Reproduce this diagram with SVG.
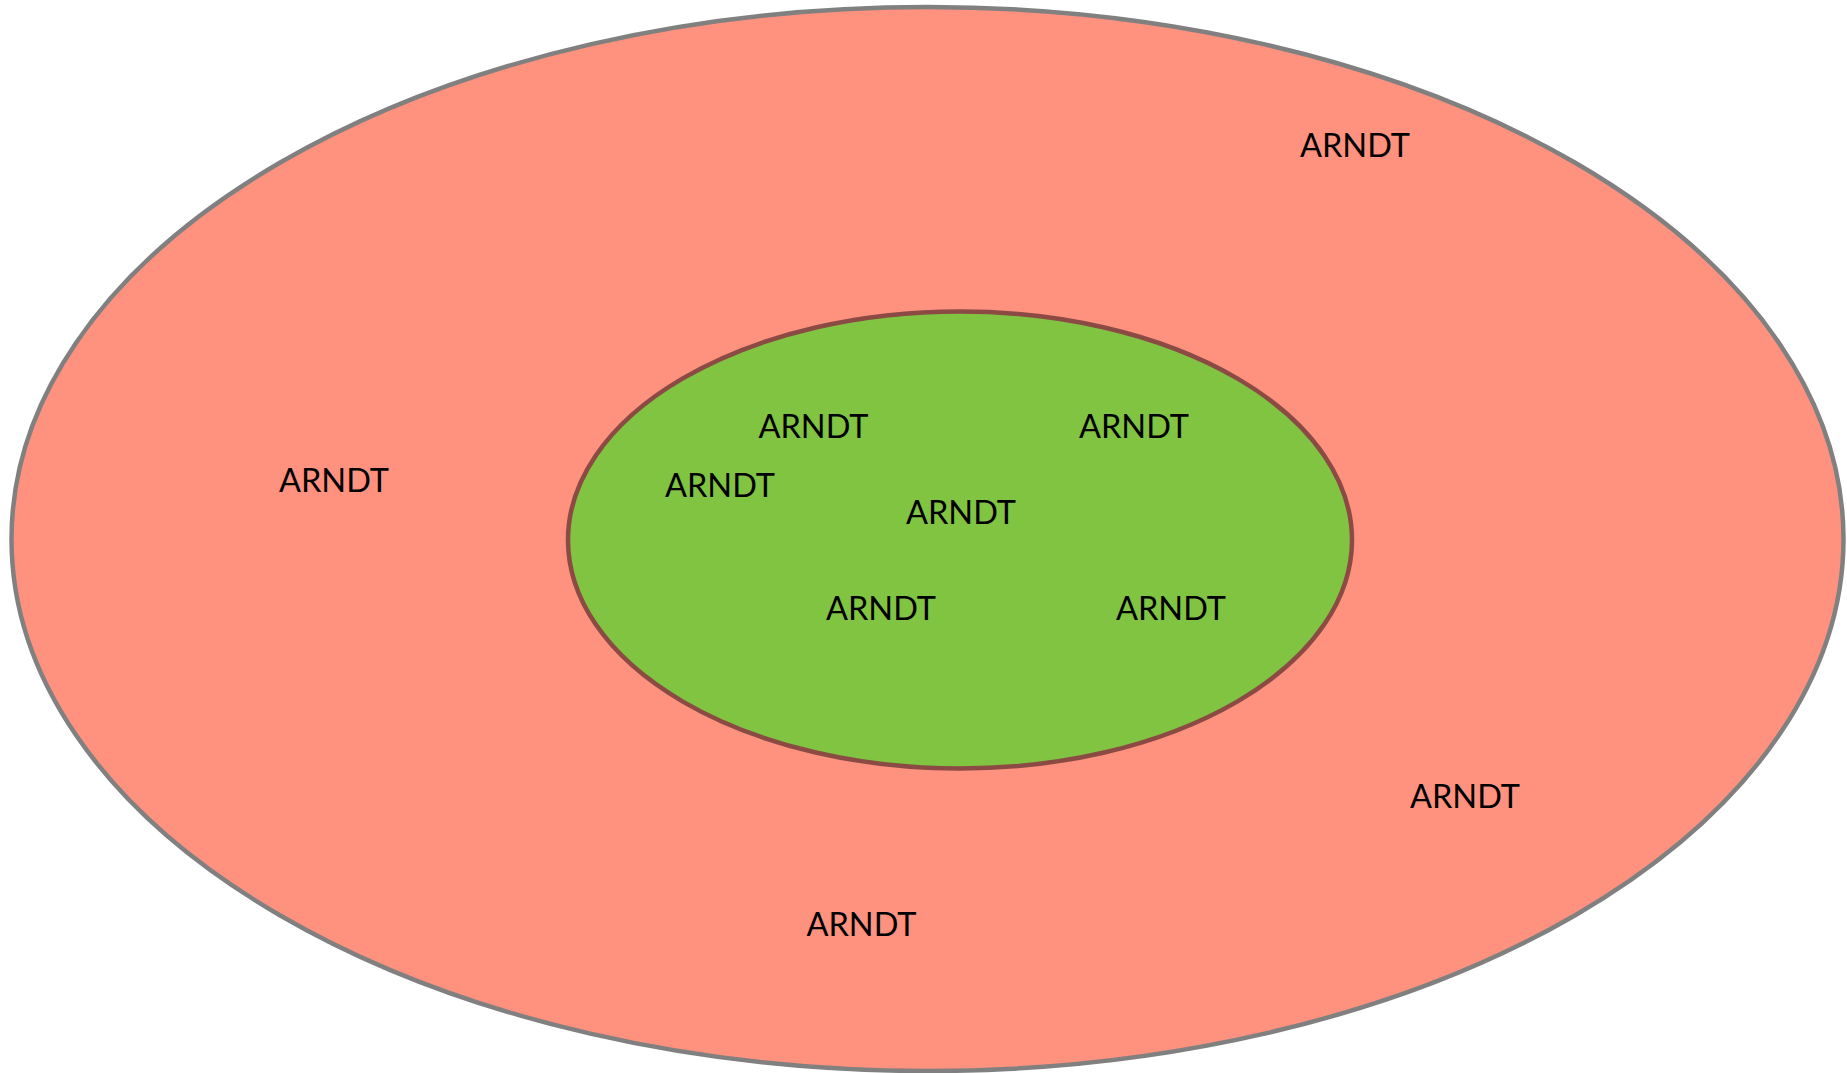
<svg xmlns="http://www.w3.org/2000/svg" width="1847" height="1073" viewBox="0 0 1847 1073">
<style>
.lbl{font-family:Lato,"Open Sans","Liberation Sans",sans-serif;font-size:32.5px;fill:#000;text-anchor:middle}
</style>
<rect width="1847" height="1073" fill="#ffffff"/>
<g id="outer">
<ellipse cx="927.5" cy="539" rx="916" ry="532" fill="#FF917F" stroke="#808080" stroke-width="4.5"/>
</g>
<g id="inner">
<ellipse cx="960" cy="540" rx="392" ry="228.5" fill="#80C441" stroke="#8B4A44" stroke-width="4.5"/>
</g>
<g id="labels">
<text class="lbl" x="1355" y="157">ARNDT</text>
<text class="lbl" x="334" y="492">ARNDT</text>
<text class="lbl" x="1465" y="808">ARNDT</text>
<text class="lbl" x="861.5" y="936">ARNDT</text>
<text class="lbl" x="813.5" y="438">ARNDT</text>
<text class="lbl" x="1134" y="438">ARNDT</text>
<text class="lbl" x="720" y="497">ARNDT</text>
<text class="lbl" x="961" y="524">ARNDT</text>
<text class="lbl" x="881" y="620">ARNDT</text>
<text class="lbl" x="1171" y="620">ARNDT</text>
</g>
</svg>
